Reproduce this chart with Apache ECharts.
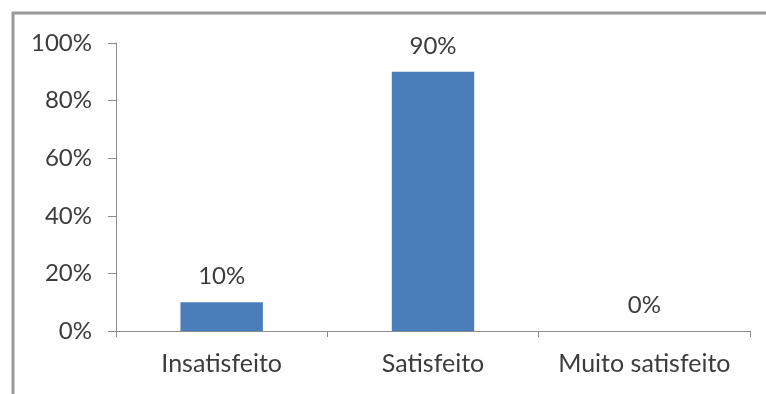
<!DOCTYPE html>
<html>
<head>
<meta charset="utf-8">
<script src="https://cdn.jsdelivr.net/npm/echarts@6/dist/echarts.min.js"></script>
<style>
  html, body { margin: 0; padding: 0; background: #ffffff; }
  #chart { width: 766px; height: 394px; }
</style>
</head>
<body>
<div id="chart"></div>
<script>
// Satisfaction levels and their share of responses (%)
const categories = ['Insatisfeito', 'Satisfeito', 'Muito satisfeito'];
const shares = [10, 90, 0];
const yTicks = { min: 0, max: 100, interval: 20 };

const textColor = '#3c3c3c';
const axisColor = '#8c8c8c';
const font = 'Lato, "Open Sans", sans-serif';

const chart = echarts.init(document.getElementById('chart'), null, { renderer: 'canvas' });
chart.setOption({
  backgroundColor: '#ffffff',
  animation: false,
  graphic: [
    // frame around the plot area (top and left edges)
    { type: 'line', shape: { x1: 12, y1: 13, x2: 766, y2: 13 }, style: { stroke: '#9a9a9a', lineWidth: 3 } },
    { type: 'line', shape: { x1: 13, y1: 12, x2: 13, y2: 394 }, style: { stroke: '#9a9a9a', lineWidth: 3 } }
  ],
  grid: { left: 116, right: 16, top: 43, bottom: 63 },
  xAxis: {
    type: 'category',
    data: categories,
    axisLine: { lineStyle: { color: axisColor, width: 1 } },
    axisTick: { show: true, length: 6, alignWithLabel: false, lineStyle: { color: axisColor } },
    axisLabel: {
      color: textColor, fontFamily: font, fontSize: 25, margin: 20,
      interval: 0, hideOverlap: false
    }
  },
  yAxis: {
    type: 'value',
    min: yTicks.min,
    max: yTicks.max,
    interval: yTicks.interval,
    axisLine: { show: true, lineStyle: { color: axisColor, width: 1 } },
    axisTick: { show: true, length: 8, lineStyle: { color: axisColor } },
    splitLine: { show: false },
    axisLabel: {
      color: textColor, fontFamily: font, fontSize: 24, margin: 24,
      formatter: v => v + '%'
    }
  },
  series: [{
    type: 'bar',
    data: shares,
    barWidth: '39%',
    itemStyle: { color: '#4a7ebb' },
    label: {
      show: true,
      position: 'top',
      distance: 14,
      color: textColor,
      fontFamily: font,
      fontSize: 24,
      formatter: p => p.value + '%'
    }
  }]
});
</script>
</body>
</html>
